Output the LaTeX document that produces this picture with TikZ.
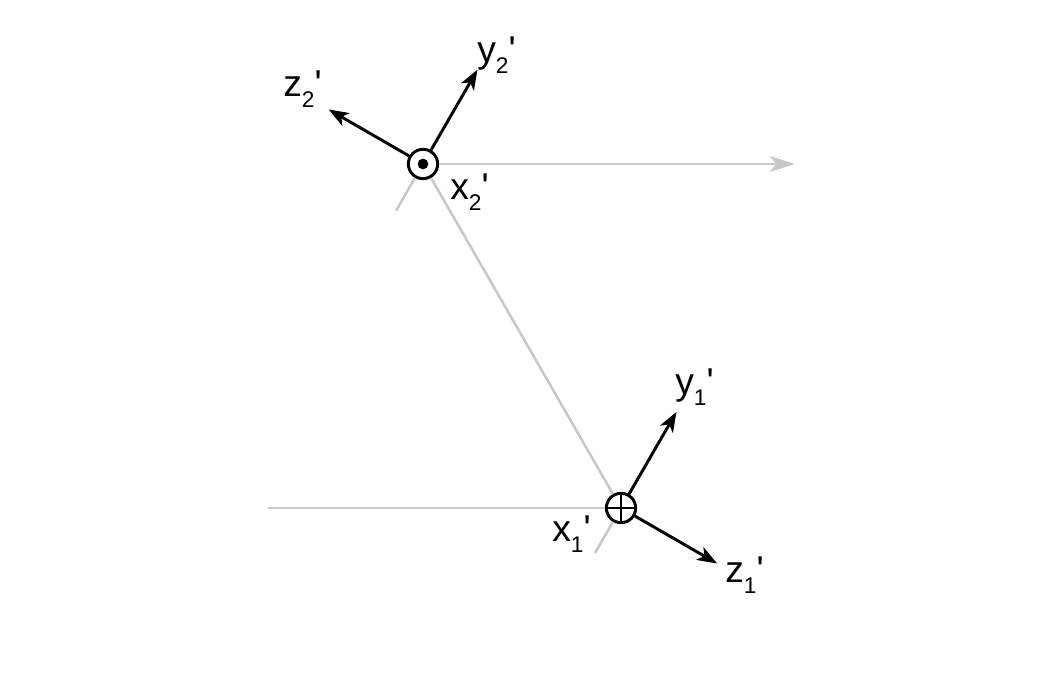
\documentclass[tikz,border=0pt]{standalone}
\usepackage{fontspec}
\setmainfont{Liberation Sans}
\usepackage{tikz}
\usetikzlibrary{arrows.meta}

% axis label: letter, subscript, prime
\newcommand{\axlab}[2]{#1\raisebox{-0.27em}{\fontsize{17pt}{17pt}\selectfont #2}\textquotesingle}

\begin{document}
\begin{tikzpicture}[
    x=0.75pt, y=0.75pt,
    joint/.style={circle, draw, line width=2.2pt, minimum size=22pt, inner sep=0pt},
    axis/.style={line width=2.2pt, -{Stealth[length=15pt, width=11pt, inset=4pt]}},
    link/.style={line width=1.9pt, draw={rgb,255:red,200;green,200;blue,200}},
    label/.style={font=\fontsize{28pt}{30pt}\selectfont, anchor=base west, inner sep=0pt}
]
\useasboundingbox (0,0) rectangle (1063,673);

% Joints
\node[joint] (o2) at (423,509) {};
\node[joint] (o1) at (621,165) {};
\fill (o2) circle (4pt);
\draw[line width=1.8pt] (o1.north) -- (o1.south) (o1.west) -- (o1.east);

% Links (grey)
\coordinate (e2) at (795,509);
\coordinate (e1) at (268,165);
\draw[link, -{Stealth[length=19pt, width=12pt, inset=5pt]}] (o2) -- (e2);
\draw[link] (o2) -- (o1);
\draw[link] (o1) -- (e1);
\draw[link] (o2) -- ++(240:54);
\draw[link] (o1) -- ++(240:52);

% Frame axes
\draw[axis] (o2) -- ++(60:109) coordinate (y2);
\draw[axis] (o2) -- ++(150:109) coordinate (z2);
\draw[axis] (o1) -- ++(60:111) coordinate (y1);
\draw[axis] (o1) -- ++(-30:111) coordinate (z1);

% Labels
\node[label] (lz2) at (283,576) {\axlab{z}{2}};
\node[label] (ly2) at (477,610) {\axlab{y}{2}};
\node[label] (lx2) at (450,473) {\axlab{x}{2}};
\node[label] (ly1) at (675,278) {\axlab{y}{1}};
\node[label] (lx1) at (552,131) {\axlab{x}{1}};
\node[label] (lz1) at (725,90) {\axlab{z}{1}};

\end{tikzpicture}
\end{document}
